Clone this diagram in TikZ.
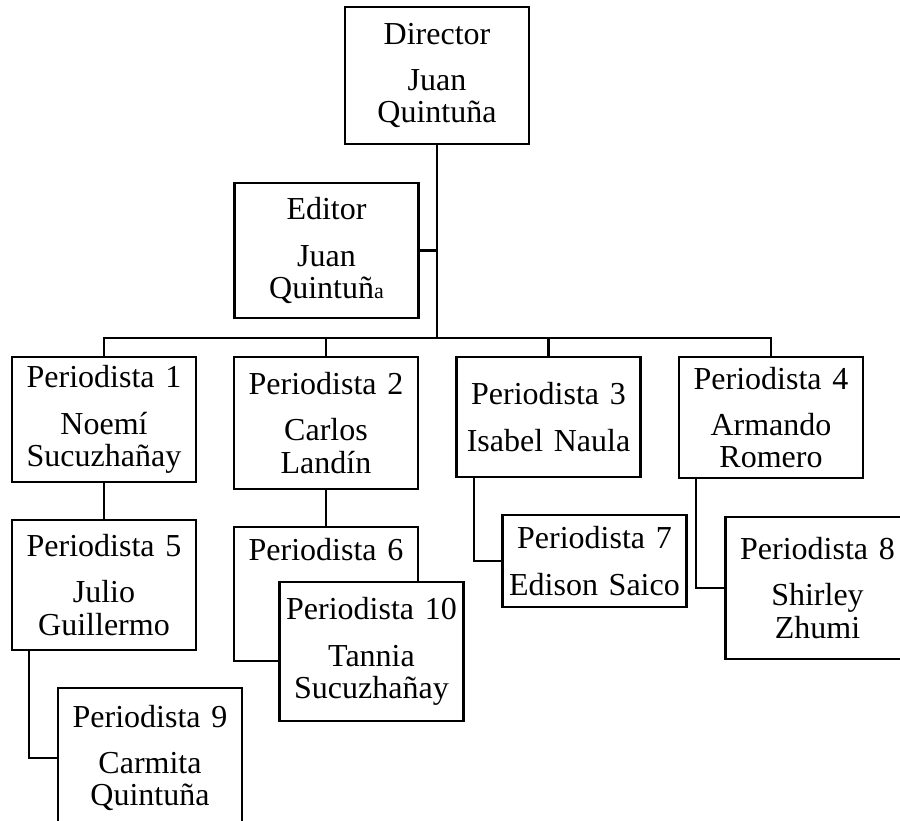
\documentclass[tikz,border=0pt]{standalone}
\usepackage{fontspec}
\setmainfont[WordSpace=0.8]{Liberation Serif}
\usepackage{tikz}
\usetikzlibrary{positioning}

\tikzset{
  cargo/.style={draw, line width=1.2pt, fill=white, align=center,
    text width=88pt, inner xsep=2pt, inner ysep=0pt,
    font=\fontsize{16}{16.2}\selectfont},
  linea/.style={line width=1.1pt}
}

\begin{document}
\begin{tikzpicture}[x=0.5pt, y=-0.5pt]
\useasboundingbox (0,0) rectangle (900,820);
\clip (0,0) rectangle (900,820);

% Direccion
\node[cargo, minimum height=68.5pt] (dir) at (437,75.5) {Director\\[7pt] Juan\\ Quintuña};
\node[cargo, minimum height=67.5pt] (edi) at (326.5,250.5) {Editor\\[7pt] Juan\\ Quintuñ{\fontsize{11}{16}\selectfont a}};

% Periodistas, primera fila
\node[cargo, minimum height=62.5pt] (p1) at (104,419.5) {Periodista 1\\[7pt] Noemí\\ Sucuzhañay};
\node[cargo, minimum height=66pt] (p2) at (326,423) {Periodista 2\\[7pt] Carlos\\ Landín};
\node[cargo, minimum height=60pt] (p3) at (548.5,417) {Periodista 3\\[7pt] Isabel Naula};
\node[cargo, minimum height=60.5pt] (p4) at (771,417.5) {Periodista 4\\[7pt] Armando\\ Romero};

% Periodistas, segunda fila
\node[cargo, minimum height=65pt] (p5) at (104,585) {Periodista 5\\[7pt] Julio\\ Guillermo};
\node[cargo, minimum height=67pt] (p6) at (326,594) {Periodista 6\\[7pt] \strut\\ \strut};
\node[cargo, minimum height=46pt] (p7) at (594.5,561) {Periodista 7\\[7pt] Edison Saico};
\node[cargo, minimum height=71pt] (p8) at (817.5,588) {Periodista 8\\[7pt] Shirley\\ Zhumi};

% Periodistas, tercera fila
\node[cargo, minimum height=70pt] (p9) at (150,758) {Periodista 9\\[7pt] Carmita\\ Quintuña};
\node[cargo, minimum height=69.5pt] (p10) at (371.5,651.5) {Periodista 10\\[7pt] Tannia\\ Sucuzhañay};

% Conectores
\coordinate (bus) at (437,338);
\draw[linea] (dir.south) -- (bus);
\draw[linea] (edi.east) -- (edi.east -| bus);
\draw[linea] (p1.north) |- (bus) -| (p4.north);
\foreach \p in {p2,p3}
  \draw[linea] (\p.north) -- (\p.north |- bus);
\draw[linea] (p1.south) -- (p5.north);
\draw[linea] (p2.south) -- (p6.north);
\draw[linea] ([xshift=9.5pt]p3.south west) |- (p7.west);
\draw[linea] ([xshift=9pt]p4.south west) |- (p8.west);
\draw[linea] ([xshift=9pt]p5.south west) |- (p9.west);
\end{tikzpicture}
\end{document}
